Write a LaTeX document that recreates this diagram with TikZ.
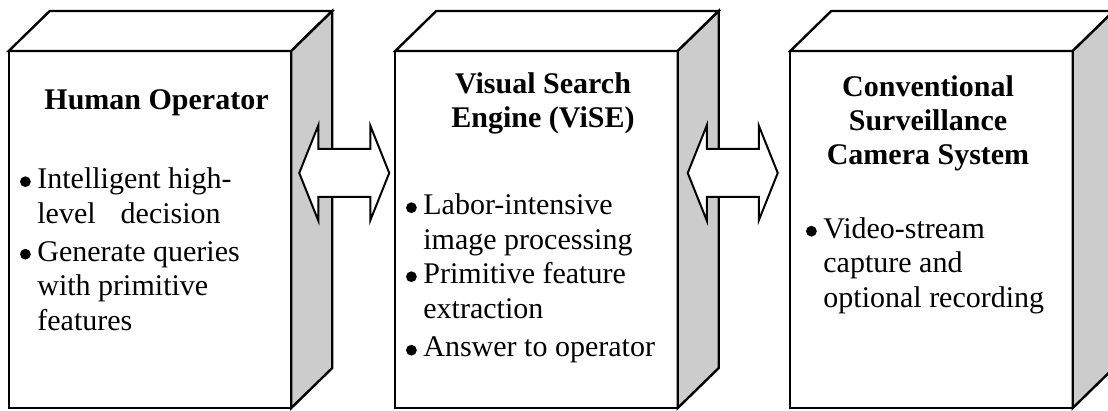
\documentclass[tikz,border=0pt]{standalone}
\usepackage{fontspec}
\setmainfont{Liberation Serif}
\usetikzlibrary{calc}

\definecolor{sidegray}{RGB}{204,204,204}

% round bullet hung to the left of an item's first line
\newcommand\itm{\llap{\tikz[baseline=0pt]\fill (0pt,3.4pt) circle (2.7pt);\hspace{3.3pt}}}

\tikzset{
  face/.style={draw=black, line width=1.2pt, line join=miter},
  front/.style={face, fill=white, minimum width=141.25pt, minimum height=178.5pt,
                inner sep=0pt, outer sep=0pt},
  link/.style={draw=black, fill=white, line width=1pt, line join=miter},
  % multi-line nodes sit on the baseline of their last line
  title/.style={font=\bfseries\fontsize{15}{17}\selectfont, align=center,
                inner sep=0pt, anchor=base},
  items/.style={font=\fontsize{15}{17.25}\selectfont, align=left,
                inner sep=0pt, anchor=base west},
  % wide double-headed block arrow, left tip at the origin
  dblarrow/.pic={
    \draw[link] (0,0) -- (19,-47.5) -- (19,-24) -- (71,-24) -- (71,-47.5)
      -- (90,0) -- (71,47.5) -- (71,24) -- (19,24) -- (19,47.5) -- cycle;
  },
}

% one 3-D block: front face node plus top and shaded side faces
\newcommand\block[2]{%
  \node[front] (#1) at (#2,229.5) {};
  \draw[face, fill=white] (#1.north west) -- ++(41,-40) -- ($(#1.north east)+(41,-40)$)
    -- (#1.north east) -- cycle;
  \draw[face, fill=sidegray] (#1.north east) -- ++(41,-40) -- ($(#1.south east)+(41,-40)$)
    -- (#1.south east) -- cycle;
  \draw[face] (#1.north west) rectangle (#1.south east);
}

\begin{document}
\begin{tikzpicture}[x=0.5pt, y=-0.5pt]
  \useasboundingbox (0,0) rectangle (1108,411);
  \clip (0,0) rectangle (1108,411);

  \block{op}{150}
  \block{vise}{536.5}
  \block{cam}{931.5}

  % texts of the operator block
  \node[title] (opT) at (156.5,110) {Human Operator};
  \node[items] (opL) at (37,330) {\itm Intelligent high-\\
    level\hspace{12.5pt}decision\\[1.75pt]
    \itm Generate queries\\with primitive\\features};

  % texts of the search engine block
  \node[title] (viseT) at (543,128) {Visual Search\\Engine (ViSE)};
  \node[items] (viseL) at (423,357) {\itm Labor-intensive\\image processing\\
    \itm Primitive feature\\extraction\\[2.25pt]
    \itm Answer to operator};

  % texts of the camera block
  \node[title] (camT) at (928,165) {Conventional\\Surveillance\\Camera System};
  \node[items] (camL) at (823,307) {\itm Video-stream\\capture and\\optional recording};

  % two-way links between the blocks
  \coordinate (l1) at ($(op.east |- 0,173)+(8,0)$);
  \coordinate (l2) at ($(vise.east |- 0,173)+(10,0)$);
  \pic at (l1) {dblarrow};
  \pic at (l2) {dblarrow};
\end{tikzpicture}
\end{document}
